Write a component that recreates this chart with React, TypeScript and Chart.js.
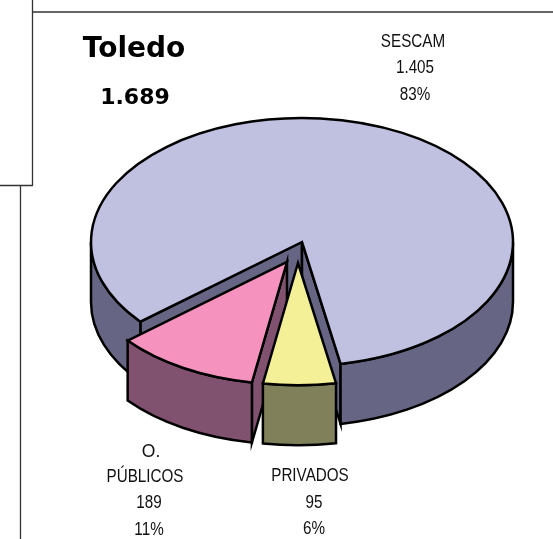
import { useEffect, useRef } from "react";
import { Chart, registerables } from "chart.js";

Chart.register(...registerables);

const categories = ["SESCAM", "PRIVADOS", "O. PÚBLICOS"];
const values = [1405, 95, 189];
const valueLabels = ["1.405", "95", "189"];
const percentLabels = ["83%", "6%", "11%"];
const totalTitle = "Toledo";
const totalValue = "1.689";

const topColors = ["#C0C0E0", "#F4F098", "#F592BE"];
const sideColors = ["#666684", "#80805A", "#805270"];

const WIDTH = 553;
const HEIGHT = 539;
const CX = 302;
const CY = 242;
const RADIUS = 211;
const TILT = 0.5877;
const DEPTH = 60;
const ROTATION = 230;
const LINE = 2.5;
const sliceRadius = [211, 208, 208];
const sliceShift = [[0, 0], [-4, 21], [-15, 20]];

const labelBlocks = [
  [[categories[0], 413, 42, 0.87], [valueLabels[0], 415, 68, 0.87], [percentLabels[0], 415, 95, 0.87]],
  [[categories[1], 310, 476, 0.87], [valueLabels[1], 314, 503, 0.87], [percentLabels[1], 314, 529, 0.87]],
  [["O.", 151, 452, 1], ["PÚBLICOS", 145, 477, 0.87], [valueLabels[2], 149, 503, 0.87], [percentLabels[2], 149, 530, 0.87]],
];

const frameLines = [
  [32, 12, 553, 12],
  [32.5, 0, 32.5, 186],
  [0, 185.5, 33, 185.5],
  [20.5, 186, 20.5, 539],
];

function projectY(y: number) {
  return CY + (y - CY) * TILT;
}

function drawWalls(ctx: CanvasRenderingContext2D, el: any, index: number) {
  const { x, startAngle, endAngle, outerRadius: r } = el;
  const sy = projectY(el.y);
  const ry = r * TILT;
  ctx.fillStyle = sideColors[index];
  ctx.strokeStyle = "#000";
  ctx.lineWidth = LINE;
  ctx.lineJoin = "miter";

  const cut = (a: number) => {
    const ex = x + Math.cos(a) * r;
    const ey = sy + Math.sin(a) * ry;
    ctx.beginPath();
    ctx.moveTo(x, sy);
    ctx.lineTo(ex, ey);
    ctx.lineTo(ex, ey + DEPTH);
    ctx.lineTo(x, sy + DEPTH);
    ctx.closePath();
    ctx.fill();
    ctx.stroke();
  };
  if (Math.cos(startAngle) < 0) cut(startAngle);
  if (Math.cos(endAngle) > 0) cut(endAngle);

  const TAU = Math.PI * 2;
  for (let k = -1; k <= 2; k++) {
    const a = Math.max(startAngle, k * TAU);
    const b = Math.min(endAngle, k * TAU + Math.PI);
    if (b <= a) continue;
    ctx.beginPath();
    ctx.ellipse(x, sy, r, ry, 0, a, b);
    ctx.ellipse(x, sy + DEPTH, r, ry, 0, b, a, true);
    ctx.closePath();
    ctx.fill();
    ctx.stroke();
  }
}

function strokeTop(ctx: CanvasRenderingContext2D, el: any) {
  const sy = projectY(el.y);
  const r = el.outerRadius;
  ctx.beginPath();
  ctx.moveTo(el.x, sy);
  ctx.ellipse(el.x, sy, r, r * TILT, 0, el.startAngle, el.endAngle);
  ctx.closePath();
  ctx.strokeStyle = "#000";
  ctx.lineWidth = LINE;
  ctx.lineJoin = "miter";
  ctx.stroke();
}

function stretchedText(ctx: CanvasRenderingContext2D, t: string, x: number, y: number, sx: number) {
  ctx.save();
  ctx.translate(x, y);
  ctx.scale(sx, 1);
  ctx.fillText(t, 0, 0);
  ctx.restore();
}

const pie3d = {
  id: "pie3d",
  afterDatasetsUpdate(chart: any) {
    const arcs = chart.getDatasetMeta(0).data;
    arcs.forEach((el: any, i: number) => {
      el.outerRadius = sliceRadius[i];
      el.x += sliceShift[i][0];
      el.y += sliceShift[i][1] / TILT;
    });
  },
  beforeDatasetsDraw(chart: any) {
    const ctx: CanvasRenderingContext2D = chart.ctx;
    const arcs = chart.getDatasetMeta(0).data;

    ctx.save();
    ctx.strokeStyle = "#333";
    ctx.lineWidth = 1.3;
    frameLines.forEach(([x1, y1, x2, y2]) => {
      ctx.beginPath();
      ctx.moveTo(x1, y1);
      ctx.lineTo(x2, y2);
      ctx.stroke();
    });
    [0, 2, 1].forEach((i) => drawWalls(ctx, arcs[i], i));
    ctx.restore();

    ctx.save();
    ctx.translate(0, CY);
    ctx.scale(1, TILT);
    ctx.translate(0, -CY);
  },
  afterDatasetsDraw(chart: any) {
    const ctx: CanvasRenderingContext2D = chart.ctx;
    ctx.restore();
    const arcs = chart.getDatasetMeta(0).data;
    ctx.save();
    arcs.forEach((el: any) => strokeTop(ctx, el));

    ctx.fillStyle = "#000";
    ctx.textAlign = "center";
    ctx.textBaseline = "middle";
    ctx.font = "bold 28px 'DejaVu Sans', sans-serif";
    ctx.fillText(totalTitle, 134, 50);
    ctx.font = "bold 22px 'DejaVu Sans', sans-serif";
    ctx.fillText(totalValue, 135, 98);
    ctx.fillStyle = "#111";
    ctx.font = "17.5px 'Liberation Sans', Arial, sans-serif";
    labelBlocks.forEach((lines) =>
      lines.forEach(([t, x, y, sx]) =>
        stretchedText(ctx, t as string, x as number, y as number, sx as number)
      )
    );
    ctx.restore();
  },
};

export default function App() {
  const ref = useRef<HTMLCanvasElement>(null);
  useEffect(() => {
    const chart = new Chart(ref.current!, {
      type: "pie",
      data: {
        labels: categories,
        datasets: [
          {
            data: values,
            backgroundColor: topColors,
            borderWidth: 0,
            radius: RADIUS,
            clip: false,
          } as any,
        ],
      },
      options: {
        responsive: false,
        animation: false,
        rotation: ROTATION,
        layout: {
          padding: { left: CX * 2 - WIDTH, right: 0, top: 0, bottom: HEIGHT - CY * 2 },
        },
        plugins: { legend: { display: false }, tooltip: { enabled: false } },
      },
      plugins: [pie3d],
    } as any);
    return () => chart.destroy();
  }, []);
  return (
    <canvas
      ref={ref}
      width={WIDTH}
      height={HEIGHT}
      style={{ position: "absolute", left: 0, top: 0, display: "block" }}
    />
  );
}
